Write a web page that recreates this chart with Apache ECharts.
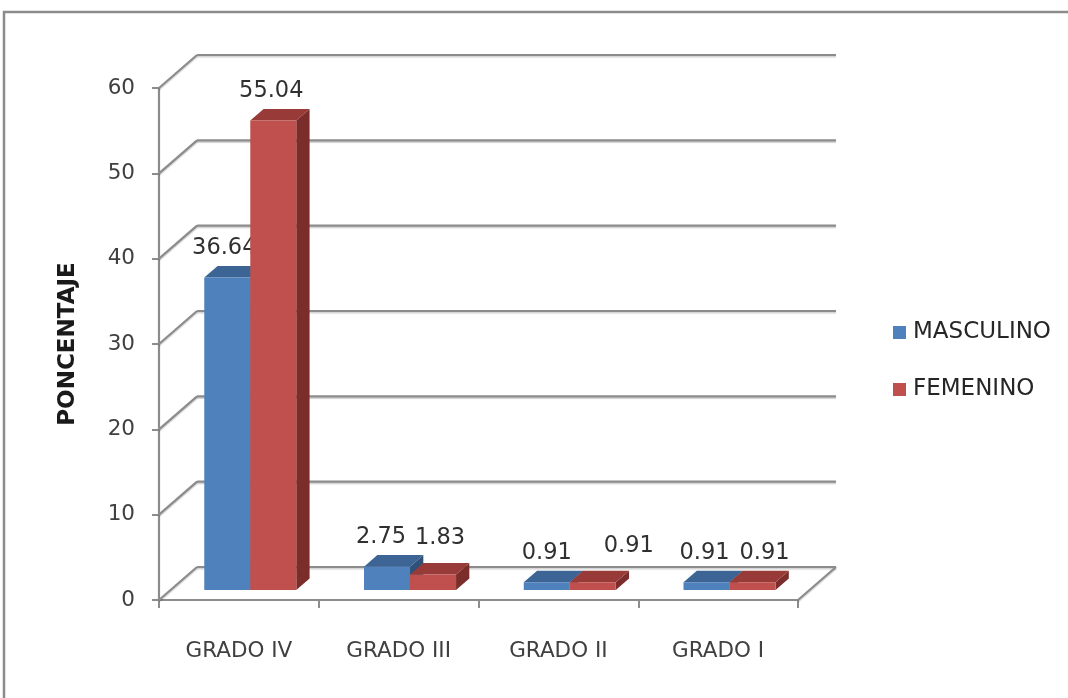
<!DOCTYPE html>
<html>
<head>
<meta charset="utf-8">
<title>PONCENTAJE por grado</title>
<script src="https://cdn.jsdelivr.net/npm/echarts@6/dist/echarts.min.js"></script>
<style>
  html, body { margin: 0; padding: 0; background: #ffffff; }
  #chart { width: 1068px; height: 698px; }
</style>
</head>
<body>
<div id="chart"></div>
<script>
// Chart data
const categories = ['GRADO IV', 'GRADO III', 'GRADO II', 'GRADO I'];
const masculino = [36.64, 2.75, 0.91, 0.91];
const femenino = [55.04, 1.83, 0.91, 0.91];
const yTicks = [0, 10, 20, 30, 40, 50, 60];

// 3D look: offset of the back wall, where the bars stand in depth, and how deep they are
const WALL = { dx: 38, dy: -33 };
const FRONT_FRAC = 0.3;
const DEPTH_FRAC = 0.35;
const BAR_FRAC = 0.288;
const FONT = "'DejaVu Sans', sans-serif";
const GRID_COLOR = '#8c8c8c';

// small label shifts so neighbouring value labels do not collide
const labelShift = {
  MASCULINO: [[-3, 0], [-6, 0], [0, 0], [-2, 0]],
  FEMENINO: [[-2, 0], [7, -7], [36, -7], [12, 0]]
};

const palettes = {
  MASCULINO: { front: '#4F81BD', top: '#3C6596', side: '#2E5079' },
  FEMENINO: { front: '#C0504D', top: '#983A37', side: '#7A2D2A' }
};

function wallRenderer(params, api) {
  const cs = params.coordSys;
  const v = api.value(1);
  const y = api.coord([0, v])[1];
  const x = cs.x, right = cs.x + cs.width;
  const lineStyle = { stroke: GRID_COLOR, lineWidth: 2.2, shadowColor: 'rgba(0,0,0,0.18)', shadowBlur: 1, shadowOffsetY: 1.5 };
  const children = [
    { type: 'line', shape: { x1: x, y1: y, x2: x + WALL.dx, y2: y + WALL.dy }, style: lineStyle },
    { type: 'line', shape: { x1: x + WALL.dx, y1: y + WALL.dy, x2: right + WALL.dx, y2: y + WALL.dy }, style: lineStyle }
  ];
  if (v === 0) {
    children.push({ type: 'line', shape: { x1: right, y1: y, x2: right + WALL.dx, y2: y + WALL.dy }, style: lineStyle });
  }
  return { type: 'group', children: children };
}

function barRenderer(name, side) {
  const pal = palettes[name];
  return function (params, api) {
    const i = api.value(0);
    const v = api.value(1);
    const base = api.coord([i, 0]);
    const top = api.coord([i, v]);
    const band = api.size([1, 0])[0];
    const w = band * BAR_FRAC;
    const fx = WALL.dx * FRONT_FRAC, fy = WALL.dy * FRONT_FRAC;
    const bx = WALL.dx * DEPTH_FRAC, by = WALL.dy * DEPTH_FRAC;
    const x0 = base[0] + fx + (side < 0 ? -w : 0);
    const x1 = x0 + w;
    const yb = base[1] + fy;
    const yt = top[1] + fy;
    const sh = labelShift[name][i];
    return {
      type: 'group',
      children: [
        { type: 'polygon', shape: { points: [[x1, yt], [x1 + bx, yt + by], [x1 + bx, yb + by], [x1, yb]] },
          style: { fill: pal.side } },
        { type: 'polygon', shape: { points: [[x0, yt], [x1, yt], [x1 + bx, yt + by], [x0 + bx, yt + by]] },
          style: { fill: pal.top } },
        { type: 'rect', shape: { x: x0, y: yt, width: w, height: yb - yt },
          style: { fill: pal.front } },
        { type: 'text',
          style: { text: v.toFixed(2), x: x0 + w / 2 + sh[0], y: yt + by - 6 + sh[1],
                   align: 'center', verticalAlign: 'bottom',
                   fontFamily: FONT, fontSize: 22.5, fill: '#303030' } }
      ]
    };
  };
}

const chart = echarts.init(document.getElementById('chart'), null, { renderer: 'canvas' });

chart.setOption({
  backgroundColor: '#ffffff',
  animation: false,
  graphic: [
    { type: 'rect', silent: true, z: -10,
      shape: { x: 4, y: 12, width: 1200, height: 800 },
      style: { fill: null, stroke: '#8c8c8c', lineWidth: 2.5 } }
  ],
  legend: {
    orient: 'vertical',
    left: 888,
    top: 316,
    padding: 5,
    itemWidth: 13,
    itemHeight: 13,
    itemGap: 34,
    data: [{ name: 'MASCULINO', icon: 'rect' }, { name: 'FEMENINO', icon: 'rect' }],
    textStyle: { fontFamily: FONT, fontSize: 23, color: '#262626', lineHeight: 23, padding: [0, 0, 0, 2] }
  },
  grid: { left: 159, top: 88, width: 639, height: 512 },
  xAxis: {
    type: 'category',
    data: categories,
    boundaryGap: true,
    axisLine: { show: true, lineStyle: { color: GRID_COLOR, width: 2.2 } },
    axisTick: { show: true, length: 8, interval: 0, lineStyle: { color: GRID_COLOR, width: 2 } },
    axisLabel: { interval: 0, margin: 40, fontFamily: FONT, fontSize: 21.5, color: '#404040' },
    splitLine: { show: false }
  },
  yAxis: {
    type: 'value',
    min: 0,
    max: 60,
    interval: 10,
    name: 'PONCENTAJE',
    nameLocation: 'middle',
    nameGap: 79,
    nameTextStyle: { fontFamily: FONT, fontSize: 23, fontWeight: 'bold', color: '#1a1a1a' },
    axisLine: { show: true, lineStyle: { color: GRID_COLOR, width: 2.2 } },
    axisTick: { show: true, length: 7, lineStyle: { color: GRID_COLOR, width: 2 } },
    axisLabel: { margin: 24, fontFamily: FONT, fontSize: 21.5, color: '#404040' },
    splitLine: { show: false }
  },
  series: [
    {
      type: 'custom', name: 'walls', silent: true, z: 1, clip: false,
      renderItem: wallRenderer,
      data: yTicks.map(v => [0, v])
    },
    {
      type: 'custom', name: 'MASCULINO', z: 3, clip: false,
      itemStyle: { color: palettes.MASCULINO.front },
      renderItem: barRenderer('MASCULINO', -1),
      data: masculino.map((v, i) => [i, v])
    },
    {
      type: 'custom', name: 'FEMENINO', z: 4, clip: false,
      itemStyle: { color: palettes.FEMENINO.front },
      renderItem: barRenderer('FEMENINO', 1),
      data: femenino.map((v, i) => [i, v])
    }
  ]
});
</script>
</body>
</html>
